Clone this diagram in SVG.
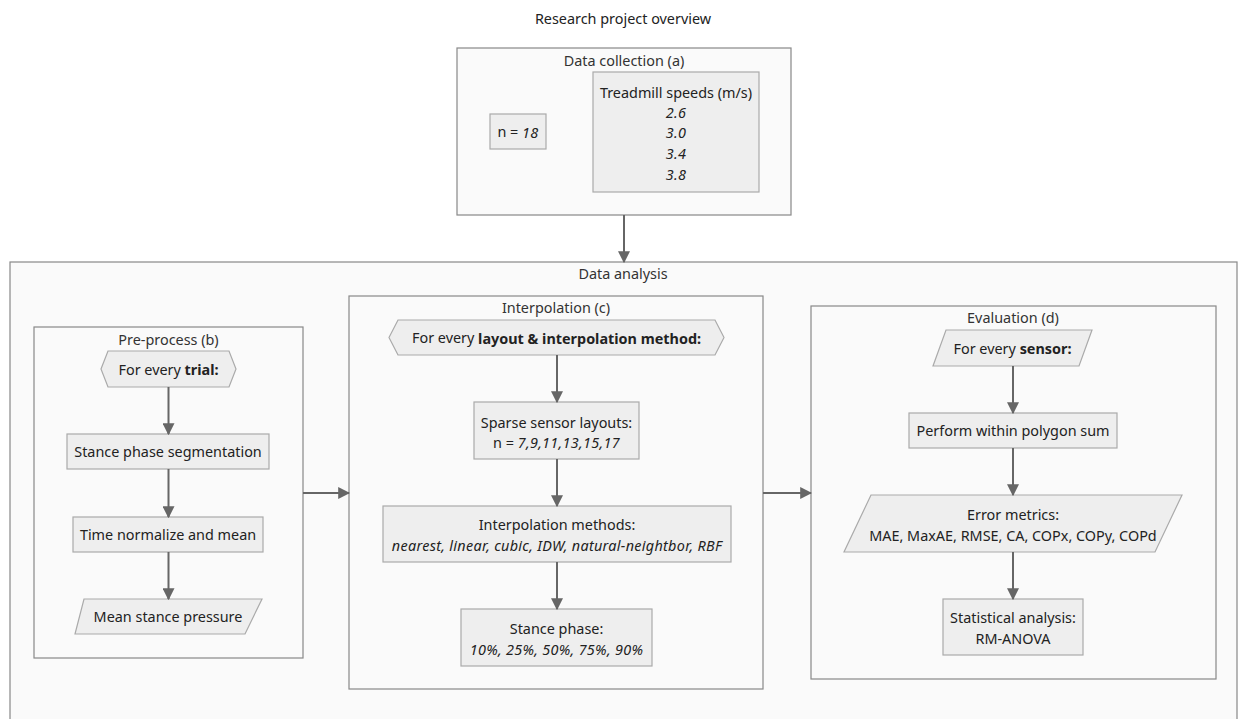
<svg xmlns="http://www.w3.org/2000/svg" width="1239" height="719" viewBox="0 0 1239 719">
<style>
text{font-family:"Noto Sans","Open Sans","Liberation Sans",sans-serif;font-size:14.4px;fill:#222;text-anchor:middle;dominant-baseline:central}
.ct{fill:#333}
.cont{fill:#fafafa;stroke:#888;stroke-width:1.2}
.node{fill:#eeeeee;stroke:#aaaaaa;stroke-width:1.2}
.edge{stroke:#666;stroke-width:2;fill:none;marker-end:url(#ah)}
.b{font-weight:bold}
.i{font-style:italic;letter-spacing:0.3px}
</style>
<defs>
<marker id="ah" viewBox="0 0 10 10" refX="9" refY="5" markerWidth="6" markerHeight="6" orient="auto" markerUnits="strokeWidth">
<path d="M0,0 L10,5 L0,10 z" fill="#666"/>
</marker>
</defs>
<rect width="1239" height="719" fill="#ffffff"/>
<text x="623" y="18">Research project overview</text>

<g id="data-collection">
<rect class="cont" x="457" y="48" width="334" height="167"/>
<text class="ct" x="624" y="60">Data collection (a)</text>
</g>
<g id="n18">
<rect class="node" x="490" y="114" width="56" height="35"/>
<text x="518" y="131.5">n = <tspan class="i">18</tspan></text>
</g>
<g id="speeds">
<rect class="node" x="593" y="72" width="166" height="120"/>
<text x="676" y="92">Treadmill speeds (m/s)</text>
<text class="i" x="676" y="112">2.6</text>
<text class="i" x="676" y="132.5">3.0</text>
<text class="i" x="676" y="153">3.4</text>
<text class="i" x="676" y="174">3.8</text>
</g>

<g id="data-analysis">
<rect class="cont" x="10" y="262" width="1227" height="470"/>
<text class="ct" x="623" y="273">Data analysis</text>
</g>

<g id="preprocess">
<rect class="cont" x="34" y="327" width="269" height="331"/>
<text class="ct" x="168.5" y="339">Pre-process (b)</text>
</g>
<g id="trial">
<polygon class="node" points="101,369 108,351 229,351 236,369 229,387 108,387"/>
<text x="168.5" y="369">For every <tspan class="b">trial:</tspan></text>
</g>
<g id="segmentation">
<rect class="node" x="67" y="434" width="202" height="35"/>
<text x="168" y="451.5">Stance phase segmentation</text>
</g>
<g id="normalize">
<rect class="node" x="73" y="517" width="190" height="35"/>
<text x="168" y="534.5">Time normalize and mean</text>
</g>
<g id="mean-pressure">
<polygon class="node" points="84,599 262,599 245,634 75,634"/>
<text x="168" y="616.5">Mean stance pressure</text>
</g>

<g id="interpolation">
<rect class="cont" x="349" y="296" width="414" height="393"/>
<text class="ct" x="556" y="307">Interpolation (c)</text>
</g>
<g id="layout-loop">
<polygon class="node" points="389,337.5 398,320 715,320 724,337.5 715,355 398,355"/>
<text x="556.5" y="337.5">For every <tspan class="b">layout &amp; interpolation method:</tspan></text>
</g>
<g id="sparse">
<rect class="node" x="474" y="402" width="165" height="57"/>
<text x="556.5" y="422">Sparse sensor layouts:</text>
<text x="556.5" y="442">n = <tspan class="i">7,9,11,13,15,17</tspan></text>
</g>
<g id="methods">
<rect class="node" x="383" y="506" width="348" height="56"/>
<text x="557" y="524">Interpolation methods:</text>
<text class="i" x="557" y="545">nearest, linear, cubic, IDW, natural-neightbor, RBF</text>
</g>
<g id="stance-phase">
<rect class="node" x="461" y="609" width="191" height="57"/>
<text x="556.5" y="628">Stance phase:</text>
<text class="i" x="556.5" y="649">10%, 25%, 50%, 75%, 90%</text>
</g>

<g id="evaluation">
<rect class="cont" x="811" y="306" width="405" height="373"/>
<text class="ct" x="1013" y="317">Evaluation (d)</text>
</g>
<g id="sensor-loop">
<polygon class="node" points="946,330 1092,330 1079,366 933,366"/>
<text x="1012.5" y="348">For every <tspan class="b">sensor:</tspan></text>
</g>
<g id="polygon-sum">
<rect class="node" x="909" y="413" width="208" height="35"/>
<text x="1013" y="430.5">Perform within polygon sum</text>
</g>
<g id="error-metrics">
<polygon class="node" points="871,495 1182,495 1155,552 844,552"/>
<text x="1013" y="514">Error metrics:</text>
<text x="1013" y="535">MAE, MaxAE, RMSE, CA, COPx, COPy, COPd</text>
</g>
<g id="stats">
<rect class="node" x="943" y="599" width="140" height="56"/>
<text x="1013" y="617">Statistical analysis:</text>
<text x="1013" y="638">RM-ANOVA</text>
</g>

<g id="connectors">
<line class="edge" x1="624" y1="215" x2="624" y2="262"/>
<line class="edge" x1="168.5" y1="387" x2="168.5" y2="434"/>
<line class="edge" x1="168.5" y1="469" x2="168.5" y2="517"/>
<line class="edge" x1="168.5" y1="552" x2="168.5" y2="599"/>
<line class="edge" x1="303" y1="493" x2="349" y2="493"/>
<line class="edge" x1="557" y1="355" x2="557" y2="402"/>
<line class="edge" x1="557" y1="459" x2="557" y2="506"/>
<line class="edge" x1="557" y1="562" x2="557" y2="609"/>
<line class="edge" x1="763" y1="493" x2="811" y2="493"/>
<line class="edge" x1="1013" y1="366" x2="1013" y2="413"/>
<line class="edge" x1="1013" y1="448" x2="1013" y2="495"/>
<line class="edge" x1="1013" y1="552" x2="1013" y2="599"/>
</g>
</svg>
